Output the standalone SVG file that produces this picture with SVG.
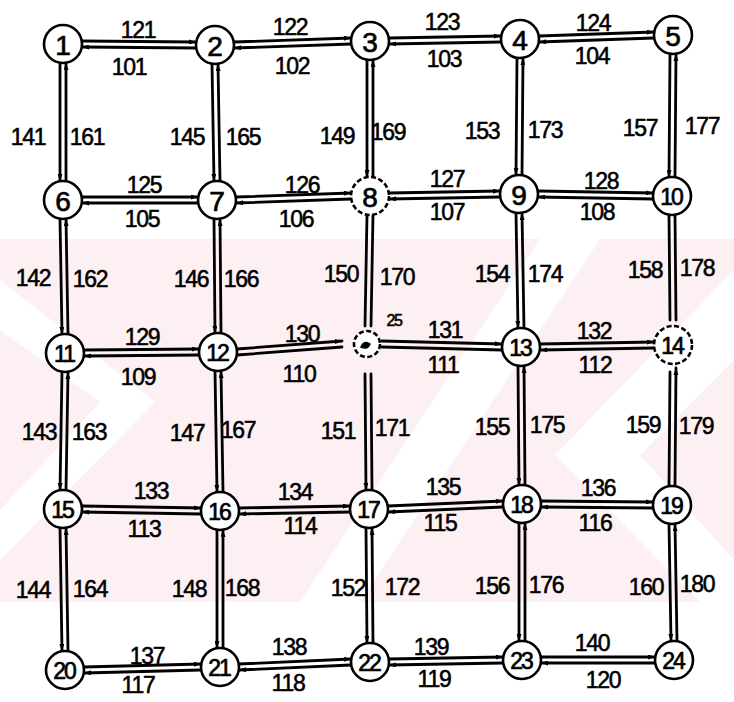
<svg xmlns="http://www.w3.org/2000/svg" width="734" height="702" viewBox="0 0 734 702">
<style>
.bg{fill:#fdf0f2}
.w{fill:#ffffff}
.l{stroke:#000;stroke-width:2.8;fill:none;stroke-linecap:round}
.la{stroke:#000;stroke-width:2.8;fill:none;stroke-linecap:round;marker-end:url(#arr)}
.t{font-family:"Liberation Sans",Arial,sans-serif;font-size:23px;letter-spacing:-1.3px;text-anchor:middle;dominant-baseline:central;fill:#000;stroke:#000;stroke-width:0.55}
.n circle{fill:#fff;stroke:#000;stroke-width:2.6}
.n text{font-family:"Liberation Sans",Arial,sans-serif;font-size:28px;text-anchor:middle;dominant-baseline:central;fill:#000;stroke:#000;stroke-width:0.7}
.n text.s{font-size:23px;letter-spacing:-2px}
.dash{stroke-dasharray:5 2.5}
</style>
<defs>
<marker id="arr" viewBox="0 0 7 5" refX="7" refY="2.5" markerWidth="7" markerHeight="5" markerUnits="userSpaceOnUse" orient="auto">
<path d="M0,0 L7,2.5 L0,5 z" fill="#000"/>
</marker>
</defs>
<rect width="734" height="702" fill="#fff"/>
<g id="watermark">
<rect class="bg" x="0" y="239" width="734" height="363"/>
<polygon class="w" points="0,280 155,402 0,560 0,510 100,402 0,330"/>
<polygon class="w" points="300,602 540,239 600,239 360,602"/>
<polygon class="w" points="734,270 555,455 700,602 734,602 734,560 640,455 734,360"/>
</g>
<g id="connectors">
<line class="la" x1="82" y1="41" x2="196" y2="42"/><line class="la" x1="196" y1="48" x2="82" y2="47"/>
<line class="la" x1="234" y1="42" x2="351" y2="38"/><line class="la" x1="351" y1="44" x2="234" y2="48"/>
<line class="la" x1="389" y1="38" x2="501" y2="36"/><line class="la" x1="501" y1="42" x2="389" y2="44"/>
<line class="la" x1="539" y1="36" x2="654" y2="32"/><line class="la" x1="654" y1="38" x2="539" y2="42"/>
<line class="la" x1="82" y1="197" x2="198" y2="197"/><line class="la" x1="198" y1="203" x2="82" y2="203"/>
<line class="la" x1="236" y1="197" x2="351" y2="193"/><line class="la" x1="351" y1="199" x2="236" y2="203"/>
<line class="la" x1="389" y1="193" x2="500" y2="191"/><line class="la" x1="500" y1="197" x2="389" y2="199"/>
<line class="la" x1="538" y1="191" x2="653" y2="193"/><line class="la" x1="653" y1="199" x2="538" y2="197"/>
<line class="la" x1="84" y1="350" x2="199" y2="349"/><line class="la" x1="199" y1="355" x2="84" y2="356"/>
<line class="la" x1="237" y1="349" x2="342" y2="341"/><line class="l" x1="342" y1="347" x2="237" y2="355"/>
<line class="la" x1="382" y1="341" x2="502" y2="344"/><line class="l" x1="502" y1="350" x2="382" y2="347"/>
<line class="la" x1="540" y1="344" x2="654" y2="342"/><line class="la" x1="654" y1="348" x2="540" y2="350"/>
<line class="la" x1="82" y1="506" x2="201" y2="508"/><line class="la" x1="201" y1="514" x2="82" y2="512"/>
<line class="la" x1="239" y1="508" x2="350" y2="506"/><line class="la" x1="350" y1="512" x2="239" y2="514"/>
<line class="la" x1="388" y1="506" x2="503" y2="501"/><line class="la" x1="503" y1="507" x2="388" y2="512"/>
<line class="la" x1="541" y1="501" x2="653" y2="502"/><line class="la" x1="653" y1="508" x2="541" y2="507"/>
<line class="la" x1="84" y1="667" x2="201" y2="664"/><line class="la" x1="201" y1="670" x2="84" y2="673"/>
<line class="la" x1="239" y1="664" x2="351" y2="659"/><line class="la" x1="351" y1="665" x2="239" y2="670"/>
<line class="la" x1="389" y1="659" x2="503" y2="657"/><line class="la" x1="503" y1="663" x2="389" y2="665"/>
<line class="la" x1="541" y1="657" x2="655" y2="657"/><line class="la" x1="655" y1="663" x2="541" y2="663"/>
<line class="la" x1="60" y1="63" x2="60" y2="181"/><line class="la" x1="66" y1="181" x2="66" y2="63"/>
<line class="la" x1="60" y1="219" x2="62" y2="334"/><line class="la" x1="68" y1="334" x2="66" y2="219"/>
<line class="la" x1="62" y1="372" x2="60" y2="490"/><line class="la" x1="66" y1="490" x2="68" y2="372"/>
<line class="la" x1="60" y1="528" x2="62" y2="651"/><line class="la" x1="68" y1="651" x2="66" y2="528"/>
<line class="la" x1="212" y1="64" x2="214" y2="181"/><line class="la" x1="220" y1="181" x2="218" y2="64"/>
<line class="la" x1="214" y1="219" x2="215" y2="333"/><line class="la" x1="221" y1="333" x2="220" y2="219"/>
<line class="la" x1="215" y1="371" x2="217" y2="492"/><line class="la" x1="223" y1="492" x2="221" y2="371"/>
<line class="la" x1="217" y1="530" x2="217" y2="648"/><line class="la" x1="223" y1="648" x2="223" y2="530"/>
<line class="la" x1="367" y1="60" x2="367" y2="177"/><line class="la" x1="373" y1="177" x2="373" y2="60"/>
<line class="l" x1="367" y1="215" x2="365" y2="326"/><line class="l" x1="371" y1="326" x2="373" y2="215"/>
<line class="la" x1="365" y1="374" x2="366" y2="490"/><line class="l" x1="372" y1="490" x2="371" y2="374"/>
<line class="la" x1="366" y1="528" x2="367" y2="643"/><line class="la" x1="373" y1="643" x2="372" y2="528"/>
<line class="la" x1="517" y1="58" x2="516" y2="175"/><line class="la" x1="522" y1="175" x2="523" y2="58"/>
<line class="la" x1="516" y1="213" x2="518" y2="328"/><line class="la" x1="524" y1="328" x2="522" y2="213"/>
<line class="la" x1="518" y1="366" x2="519" y2="485"/><line class="la" x1="525" y1="485" x2="524" y2="366"/>
<line class="la" x1="519" y1="523" x2="519" y2="641"/><line class="la" x1="525" y1="641" x2="525" y2="523"/>
<line class="la" x1="670" y1="54" x2="669" y2="177"/><line class="la" x1="675" y1="177" x2="676" y2="54"/>
<line class="l" x1="669" y1="215" x2="670" y2="320"/><line class="l" x1="676" y1="320" x2="675" y2="215"/>
<line class="l" x1="670" y1="372" x2="669" y2="486"/><line class="la" x1="675" y1="486" x2="676" y2="368"/>
<line class="la" x1="669" y1="524" x2="671" y2="641"/><line class="la" x1="677" y1="641" x2="675" y2="524"/>
</g>
<g id="labels">
<text class="t" x="138" y="30">121</text><text class="t" x="129" y="67">101</text>
<text class="t" x="290" y="27">122</text><text class="t" x="292" y="66">102</text>
<text class="t" x="442" y="22">123</text><text class="t" x="444" y="59">103</text>
<text class="t" x="593" y="23">124</text><text class="t" x="592" y="56">104</text>
<text class="t" x="144" y="185">125</text><text class="t" x="142" y="219">105</text>
<text class="t" x="302" y="185">126</text><text class="t" x="296" y="219">106</text>
<text class="t" x="447" y="179">127</text><text class="t" x="447" y="212">107</text>
<text class="t" x="601" y="181">128</text><text class="t" x="597" y="212">108</text>
<text class="t" x="28" y="137">141</text><text class="t" x="87" y="137">161</text>
<text class="t" x="187" y="137">145</text><text class="t" x="243" y="137">165</text>
<text class="t" x="337" y="136">149</text><text class="t" x="388" y="132">169</text>
<text class="t" x="482" y="131">153</text><text class="t" x="545" y="130">173</text>
<text class="t" x="640" y="128">157</text><text class="t" x="702" y="126">177</text>
<text class="t" x="33" y="278">142</text><text class="t" x="90" y="279">162</text>
<text class="t" x="191" y="279">146</text><text class="t" x="241" y="279">166</text>
<text class="t" x="341" y="274">150</text><text class="t" x="397" y="277">170</text>
<text class="t" x="492" y="274">154</text><text class="t" x="545" y="274">174</text>
<text class="t" x="645" y="270">158</text><text class="t" x="697" y="268">178</text>
<text class="t" x="142" y="337">129</text><text class="t" x="138" y="377">109</text>
<text class="t" x="302" y="334">130</text><text class="t" x="299" y="374">110</text>
<text class="t" x="394" y="320" style="font-size:16px">25</text>
<text class="t" x="445" y="330">131</text><text class="t" x="443" y="365">111</text>
<text class="t" x="594" y="331">132</text><text class="t" x="595" y="365">112</text>
<text class="t" x="39" y="432">143</text><text class="t" x="89" y="432">163</text>
<text class="t" x="187" y="433">147</text><text class="t" x="238" y="430">167</text>
<text class="t" x="338" y="431">151</text><text class="t" x="392" y="428">171</text>
<text class="t" x="492" y="427">155</text><text class="t" x="547" y="425">175</text>
<text class="t" x="643" y="425">159</text><text class="t" x="696" y="426">179</text>
<text class="t" x="151" y="491">133</text><text class="t" x="144" y="529">113</text>
<text class="t" x="295" y="492">134</text><text class="t" x="300" y="526">114</text>
<text class="t" x="443" y="487">135</text><text class="t" x="440" y="523">115</text>
<text class="t" x="598" y="488">136</text><text class="t" x="595" y="523">116</text>
<text class="t" x="33" y="590">144</text><text class="t" x="90" y="589">164</text>
<text class="t" x="189" y="589">148</text><text class="t" x="242" y="588">168</text>
<text class="t" x="348" y="588">152</text><text class="t" x="402" y="587">172</text>
<text class="t" x="492" y="586">156</text><text class="t" x="546" y="585">176</text>
<text class="t" x="646" y="587">160</text><text class="t" x="697" y="584">180</text>
<text class="t" x="147" y="656">137</text><text class="t" x="138" y="685">117</text>
<text class="t" x="289" y="647">138</text><text class="t" x="288" y="683">118</text>
<text class="t" x="431" y="647">139</text><text class="t" x="434" y="679">119</text>
<text class="t" x="592" y="643">140</text><text class="t" x="603" y="680">120</text>
</g>
<g id="n1" class="n"><circle cx="63" cy="44" r="19"/><text x="63" y="45">1</text></g>
<g id="n2" class="n"><circle cx="215" cy="45" r="19"/><text x="215" y="46">2</text></g>
<g id="n3" class="n"><circle cx="370" cy="41" r="19"/><text x="370" y="42">3</text></g>
<g id="n4" class="n"><circle cx="520" cy="39" r="19"/><text x="520" y="40">4</text></g>
<g id="n5" class="n"><circle cx="673" cy="35" r="19"/><text x="673" y="36">5</text></g>
<g id="n6" class="n"><circle cx="63" cy="200" r="19"/><text x="63" y="201">6</text></g>
<g id="n7" class="n"><circle cx="217" cy="200" r="19"/><text x="217" y="201">7</text></g>
<g id="n8" class="n"><circle class="dash" cx="370" cy="196" r="19"/><text x="370" y="197">8</text></g>
<g id="n9" class="n"><circle cx="519" cy="194" r="19"/><text x="519" y="195">9</text></g>
<g id="n10" class="n"><circle cx="672" cy="196" r="19"/><text class="s" x="671" y="197">10</text></g>
<g id="n11" class="n"><circle cx="65" cy="353" r="19"/><text class="s" x="64" y="354">11</text></g>
<g id="n12" class="n"><circle cx="218" cy="352" r="19"/><text class="s" x="217" y="353">12</text></g>
<g id="n25" class="n"><circle class="dash" cx="367" cy="344" r="13"/><path d="M361,347 q3,-7 9,-3 q-2,6 -9,3 z" fill="#000" stroke="#000" stroke-width="1.5"/></g>
<g id="n13" class="n"><circle cx="521" cy="347" r="19"/><text class="s" x="520" y="348">13</text></g>
<g id="n14" class="n"><circle class="dash" cx="673" cy="345" r="19"/><text class="s" x="672" y="346">14</text></g>
<g id="n15" class="n"><circle cx="63" cy="509" r="19"/><text class="s" x="62" y="510">15</text></g>
<g id="n16" class="n"><circle cx="220" cy="511" r="19"/><text class="s" x="219" y="512">16</text></g>
<g id="n17" class="n"><circle cx="369" cy="509" r="19"/><text class="s" x="368" y="510">17</text></g>
<g id="n18" class="n"><circle cx="522" cy="504" r="19"/><text class="s" x="521" y="505">18</text></g>
<g id="n19" class="n"><circle cx="672" cy="505" r="19"/><text class="s" x="671" y="506">19</text></g>
<g id="n20" class="n"><circle cx="65" cy="670" r="19"/><text class="s" x="64" y="671">20</text></g>
<g id="n21" class="n"><circle cx="220" cy="667" r="19"/><text class="s" x="219" y="668">21</text></g>
<g id="n22" class="n"><circle cx="370" cy="662" r="19"/><text class="s" x="369" y="663">22</text></g>
<g id="n23" class="n"><circle cx="522" cy="660" r="19"/><text class="s" x="521" y="661">23</text></g>
<g id="n24" class="n"><circle cx="674" cy="660" r="19"/><text class="s" x="673" y="661">24</text></g>
</svg>
